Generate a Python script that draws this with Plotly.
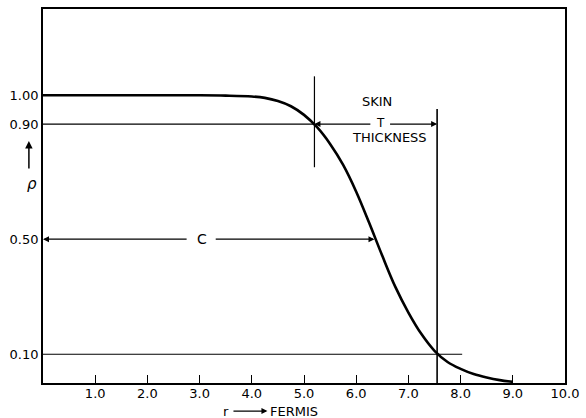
import plotly.graph_objects as go

# Density curve
r_vals = [0.0, 1.0, 2.0, 3.0, 3.5, 4.0, 4.25, 4.5, 4.75, 5.0, 5.25, 5.5, 5.75, 6.0,
          6.25, 6.5, 6.75, 7.0, 7.25, 7.5, 7.75, 8.0, 8.25, 8.5, 8.75, 9.0]
rho_vals = [1.0, 1.0, 1.0, 1.0, 0.999, 0.996, 0.991, 0.980, 0.962, 0.932, 0.889, 0.831,
            0.758, 0.665, 0.556, 0.442, 0.334, 0.245, 0.170, 0.112, 0.073, 0.049,
            0.031, 0.019, 0.010, 0.004]

x_tickvals = [1, 2, 3, 4, 5, 6, 7, 8, 9, 10]
x_ticktext = ["1.0", "2.0", "3.0", "4.0", "5.0", "6.0", "7.0", "8.0", "9.0", "10.0"]
y_tickvals = [0.10, 0.50, 0.90, 1.00]
y_ticktext = ["0.10", "0.50", "0.90", "1.00"]

# Key radii
r90 = 5.20   # rho = 0.9
c_half = 6.35  # rho = 0.5
r10 = 7.55   # rho = 0.1

FONT = "DejaVu Sans"
ink = "black"

fig = go.Figure()
fig.add_trace(go.Scatter(x=r_vals, y=rho_vals, mode="lines",
                         line=dict(color=ink, width=2.6, shape="spline", smoothing=1.0),
                         hoverinfo="skip", showlegend=False))

lw = 1.2
shapes = [
    dict(type="line", x0=0, x1=r90, y0=0.90, y1=0.90, line=dict(color=ink, width=lw)),
    dict(type="line", x0=r90, x1=r90, y0=0.75, y1=1.066, line=dict(color=ink, width=lw)),
    dict(type="line", x0=r10, x1=r10, y0=0.0, y1=0.952, line=dict(color=ink, width=1.6)),
    dict(type="line", x0=0, x1=8.03, y0=0.10, y1=0.10, line=dict(color=ink, width=lw)),
]

def arrow(x_tip, y_tip, x_tail, y_tail):
    return dict(x=x_tip, y=y_tip, ax=x_tail, ay=y_tail, xref="x", yref="y",
                axref="x", ayref="y", text="", showarrow=True,
                arrowhead=2, arrowsize=1.0, arrowwidth=1.2, arrowcolor=ink)

annotations = [
    arrow(r90, 0.90, 6.30, 0.90),
    arrow(r10, 0.90, 6.62, 0.90),
    arrow(0.0, 0.50, 2.78, 0.50),
    arrow(c_half, 0.50, 3.28, 0.50),
    dict(x=3.05, y=0.50, text="C", showarrow=False, xref="x", yref="y",
         font=dict(family=FONT, size=14, color=ink)),
    dict(x=6.39, y=0.979, text="SKIN", showarrow=False, xref="x", yref="y",
         font=dict(family=FONT, size=13, color=ink)),
    dict(x=6.46, y=0.905, text="T", showarrow=False, xref="x", yref="y",
         font=dict(family=FONT, size=12, color=ink)),
    dict(x=6.64, y=0.855, text="THICKNESS", showarrow=False, xref="x", yref="y",
         font=dict(family=FONT, size=13, color=ink)),
    # rho label with arrow
    dict(x=-0.027, y=0.841, xref="paper", yref="y", ax=0, ay=29, axref="pixel", ayref="pixel",
         text="", showarrow=True, arrowhead=2, arrowwidth=1.5, arrowcolor=ink),
    dict(x=-0.021, y=0.692, xref="paper", yref="y", text="<i>ρ</i>", showarrow=False,
         xanchor="center", yanchor="middle",
         font=dict(family=FONT, size=15, color=ink)),
    # x axis label
    dict(x=3.50, y=-0.075, xref="x", yref="paper", text="r", showarrow=False,
         xanchor="center", yanchor="middle",
         font=dict(family=FONT, size=13, color=ink)),
    dict(x=4.30, y=-0.075, xref="x", yref="paper", ax=3.62, ay=0, axref="x", ayref="pixel",
         text="", showarrow=True, arrowhead=2, arrowwidth=1.2, arrowcolor=ink),
    dict(x=4.31, y=-0.075, xref="x", yref="paper", text="FERMIS", showarrow=False,
         xanchor="left", yanchor="middle", font=dict(family=FONT, size=13, color=ink)),
]

fig.update_layout(
    width=586, height=418,
    margin=dict(l=43, r=16, t=7, b=35),
    paper_bgcolor="white", plot_bgcolor="white",
    shapes=shapes, annotations=annotations,
    font=dict(family=FONT, size=13, color=ink),
    xaxis=dict(range=[0, 10], tickvals=x_tickvals, ticktext=x_ticktext,
               ticks="inside", ticklen=8, tickwidth=1.2, tickcolor=ink,
               ticklabelstandoff=-3,
               showgrid=False, zeroline=False, showline=True, linecolor=ink,
               linewidth=1.8, mirror=True, tickfont=dict(family=FONT, size=13, color=ink)),
    yaxis=dict(range=[0, 1.3], tickvals=y_tickvals, ticktext=y_ticktext,
               ticks="", showgrid=False, zeroline=False, showline=True,
               linecolor=ink, linewidth=1.8, mirror=True,
               tickfont=dict(family=FONT, size=13, color=ink)),
)

fig.write_html("out.html")
